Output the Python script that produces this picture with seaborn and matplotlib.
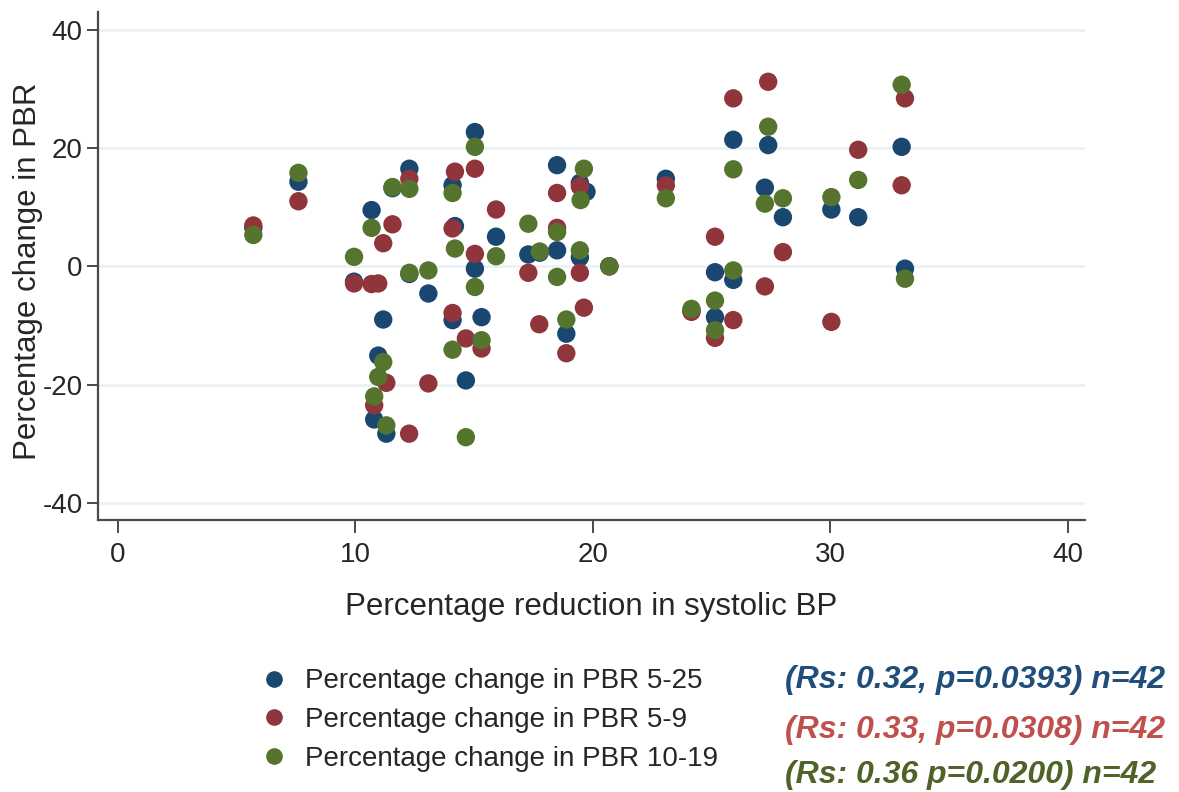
import numpy as np
import pandas as pd
import matplotlib
matplotlib.use("Agg")
import matplotlib.pyplot as plt
from matplotlib.lines import Line2D
import seaborn as sns

# x = percentage reduction in systolic BP, y = percentage change in PBR
bp_5_25 = [5.7, 7.6, 9.94, 10.68, 10.96, 11.17, 10.79, 11.3, 11.56, 12.27, 12.27, 13.07, 14.09, 14.19,
           14.09, 15.03, 15.03, 15.31, 14.65, 15.92, 17.28, 17.76, 18.49, 18.49, 18.88, 19.45, 19.73, 19.45,
           20.69, 23.07, 24.15, 25.14, 25.14, 25.91, 25.91, 27.38, 27.24, 28.0, 30.04, 31.17, 33.0, 33.14]
pbr_5_25 = [6.5, 14.3, -2.6, 9.5, -15.1, -9.0, -25.9, -28.3, 13.2, 16.5, -1.3, -4.6, 13.7, 6.8,
            -9.1, 22.7, -0.4, -8.6, -19.3, 5.0, 2.0, 2.3, 17.1, 2.7, -11.4, 14.1, 12.6, 1.5,
            0.0, 14.8, -7.5, -1.0, -8.6, 21.4, -2.3, 20.5, 13.3, 8.3, 9.6, 8.3, 20.2, -0.4]

bp_5_9 = [5.7, 7.6, 9.94, 10.68, 10.96, 11.17, 11.56, 11.3, 10.79, 12.26, 13.07, 12.27, 14.19, 15.03,
          14.09, 15.03, 14.09, 14.65, 15.31, 15.92, 17.28, 17.74, 18.49, 18.49, 18.88, 19.45, 19.45, 19.62,
          20.69, 23.07, 24.15, 25.14, 25.14, 25.91, 25.91, 27.38, 27.24, 28.0, 30.04, 31.17, 33.14, 33.0]
pbr_5_9 = [6.9, 11.0, -2.9, -3.0, -2.9, 3.9, 7.1, -19.7, -23.5, -28.3, -19.8, 14.8, 16.0, 16.5,
           6.4, 2.1, -7.9, -12.2, -13.9, 9.6, -1.1, -9.8, 12.4, 6.5, -14.7, 13.5, -1.1, -7.0,
           0.0, 13.7, -7.7, 5.0, -12.1, 28.4, -9.1, 31.2, -3.4, 2.4, -9.4, 19.7, 28.4, 13.7]

bp_10_19 = [5.7, 7.6, 9.94, 10.68, 10.96, 11.17, 10.79, 11.3, 11.56, 12.27, 12.27, 13.07, 14.09, 14.19,
            14.09, 15.03, 15.03, 15.31, 14.65, 15.92, 17.28, 17.76, 18.49, 18.49, 18.88, 19.62, 19.48, 19.45,
            20.69, 23.07, 24.15, 25.14, 25.14, 25.91, 25.91, 27.38, 27.24, 28.0, 30.04, 31.17, 33.0, 33.14]
pbr_10_19 = [5.3, 15.8, 1.6, 6.5, -18.7, -16.2, -22.0, -26.9, 13.4, 13.1, -1.1, -0.7, 12.4, 3.0,
             -14.1, 20.2, -3.5, -12.5, -28.9, 1.7, 7.2, 2.5, 5.8, -1.8, -9.0, 16.5, 11.2, 2.7,
             0.0, 11.5, -7.2, -5.8, -10.8, 16.4, -0.7, 23.6, 10.6, 11.5, 11.7, 14.6, 30.7, -2.1]

SERIES = ["Percentage change in PBR 5-25", "Percentage change in PBR 5-9", "Percentage change in PBR 10-19"]
COLORS = ["#1a476f", "#90353b", "#55752f"]
STATS = ["(Rs: 0.32, p=0.0393) n=42", "(Rs: 0.33, p=0.0308) n=42", "(Rs: 0.36 p=0.0200) n=42"]
STAT_COLORS = ["#1f4e79", "#c0504d", "#4f6228"]

df = pd.concat([
    pd.DataFrame({"bp": bp_5_25, "pbr": pbr_5_25, "series": SERIES[0]}),
    pd.DataFrame({"bp": bp_5_9, "pbr": pbr_5_9, "series": SERIES[1]}),
    pd.DataFrame({"bp": bp_10_19, "pbr": pbr_10_19, "series": SERIES[2]}),
], ignore_index=True)

sns.set_style("white")
plt.rcParams["font.family"] = ["Liberation Sans", "DejaVu Sans"]
plt.rcParams["axes.unicode_minus"] = False

W, H = 1179, 792
fig = plt.figure(figsize=(W / 100, H / 100), dpi=100)
ax = fig.add_axes([98 / W, 1 - 520 / H, (1085 - 98) / W, (520 - 12) / H])

sns.scatterplot(data=df, x="bp", y="pbr", hue="series", hue_order=SERIES,
                palette=COLORS, s=175, linewidth=0, alpha=1, ax=ax, legend=False, zorder=3)

ax.set_xlim(-0.84, 40.72)
ax.set_ylim(-42.9, 43.0)
ax.set_xticks([0, 10, 20, 30, 40])
ax.set_yticks([-40, -20, 0, 20, 40])
ax.yaxis.grid(True, color="#eaf2f3", lw=2)
ax.xaxis.grid(False)
ax.set_axisbelow(True)

for s in ["top", "right"]:
    ax.spines[s].set_visible(False)
for s in ["left", "bottom"]:
    ax.spines[s].set_color("#4a4a4a")
    ax.spines[s].set_linewidth(1.6)

ax.tick_params(axis="y", length=8, width=1.4, color="#4a4a4a", labelsize=20, pad=3, left=True)
ax.tick_params(axis="x", length=9, width=1.4, color="#4a4a4a", labelsize=20, pad=7, bottom=True)

ax.set_xlabel("Percentage reduction in systolic BP", fontsize=22.5, labelpad=17)
ax.set_ylabel("Percentage change in PBR", fontsize=22.5)
ax.yaxis.set_label_coords(-55 / 987, 0.49)

handles = [Line2D([], [], ls="", marker="o", markersize=12, markerfacecolor=c, markeredgewidth=0)
           for c in COLORS]
fig.legend(handles, SERIES, loc="center left", bbox_to_anchor=(263 / W, 1 - 720 / H),
           frameon=False, fontsize=20, handlelength=0.8, handletextpad=0.7,
           labelspacing=0.45, borderpad=0, borderaxespad=0)

for txt, c, py in zip(STATS, STAT_COLORS, [680, 730, 775]):
    fig.text(785 / W, 1 - py / H, txt, color=c, fontsize=23, fontweight="bold",
             style="italic", ha="left", va="center")

fig.savefig("out.png", dpi=100)
